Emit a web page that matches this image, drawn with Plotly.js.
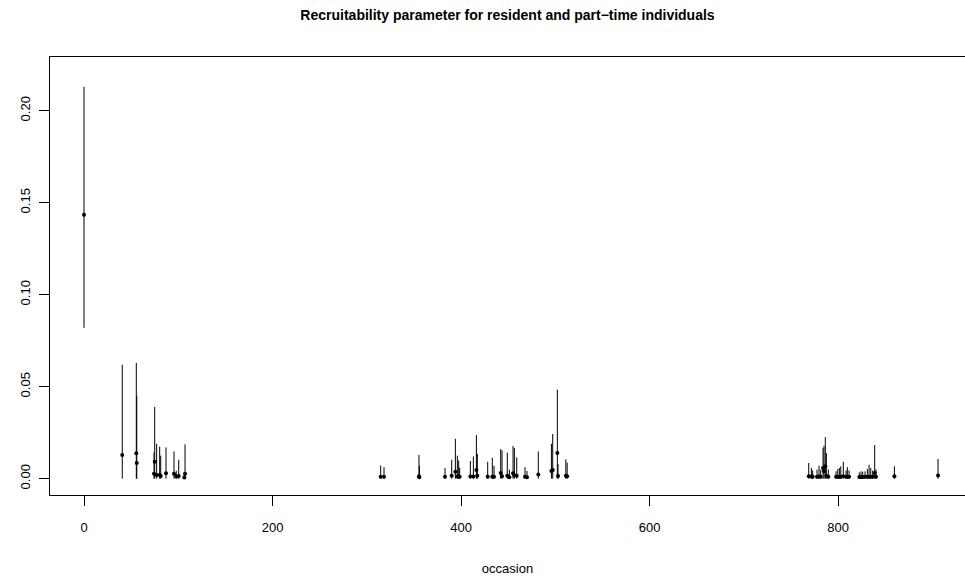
<!DOCTYPE html>
<html>
<head>
<meta charset="utf-8">
<script src="https://cdn.plot.ly/plotly-3.0.1.min.js"></script>
<style>html,body{margin:0;padding:0;background:#fff;}</style>
</head>
<body>
<div id="chart" style="width:965px;height:581px;"></div>
<script>
// occasion index, point estimate, lower and upper bounds
var occasion = [0, 40.6, 55.5, 56, 74.3, 75.0, 77.1, 80.3, 81.4, 87, 95.5, 97.9, 100.5, 106.4, 107.2,
  314.8, 318.3, 355.4, 355.8, 383, 390.1, 394, 396.1, 397.5, 398.6, 409.9, 413.1, 416.3, 417.3, 428.3, 433.2, 435,
  442.1, 443.5, 449.1, 451.3, 455.2, 456.6, 459.1, 467.9, 470, 482, 495.9, 497.3, 502.2, 502.9, 511.2, 512.6,
  768.9, 771.7, 773.1, 777.7, 779.8, 781.6, 784.1, 785.1, 786.5, 787.6, 789.7, 797.9, 799.7, 801.4, 802.9, 805.6,
  808.5, 809.9, 811.7, 822.6, 824.4, 826.2, 828.6, 831.1, 832.9, 834.7, 836.8, 838.9, 840.3, 859.8, 906.1];
var estimate = [0.1435, 0.0129, 0.0138, 0.0085, 0.0027, 0.0092, 0.0020, 0.0020, 0.0015, 0.0029, 0.0027, 0.0012, 0.0015, 0.0006, 0.0027,
  0.0011, 0.0011, 0.0013, 0.0008, 0.0010, 0.0016, 0.0038, 0.0012, 0.0012, 0.0011, 0.0012, 0.0012, 0.0047, 0.0016, 0.0011, 0.0011, 0.0011,
  0.0031, 0.0013, 0.0016, 0.0008, 0.0029, 0.0019, 0.0016, 0.0010, 0.0008, 0.0023, 0.0042, 0.0047, 0.0140, 0.0015, 0.0016, 0.0013,
  0.0013, 0.0012, 0.0010, 0.0010, 0.0012, 0.0010, 0.0058, 0.0040, 0.0067, 0.0015, 0.0010, 0.0010, 0.0010, 0.0011, 0.0011, 0.0013,
  0.0010, 0.0011, 0.0010, 0.0009, 0.0009, 0.0009, 0.0010, 0.0010, 0.0011, 0.0010, 0.0010, 0.0031, 0.0011, 0.0013, 0.0018];
var lower = [0.082, 0, 0, 0, 0, 0, 0, 0, 0, 0, 0, 0, 0, 0, 0,
  0, 0, 0, 0, 0, 0, 0, 0, 0, 0, 0, 0, 0, 0, 0, 0, 0,
  0, 0, 0, 0, 0, 0, 0, 0, 0, 0, 0, 0, 0, 0, 0, 0,
  0, 0, 0, 0, 0, 0, 0, 0, 0, 0, 0, 0, 0, 0, 0, 0,
  0, 0, 0, 0, 0, 0, 0, 0, 0, 0, 0, 0, 0, 0, 0];
var upper = [0.213, 0.062, 0.0629, 0.045, 0.0143, 0.039, 0.019, 0.0174, 0.0125, 0.017, 0.0148, 0.0043, 0.0103, 0.003, 0.0187,
  0.0072, 0.0063, 0.0129, 0.007, 0.0058, 0.0103, 0.0217, 0.0125, 0.0099, 0.006, 0.0096, 0.0121, 0.0237, 0.0136, 0.0092, 0.0114, 0.007,
  0.0161, 0.0154, 0.0141, 0.0049, 0.0178, 0.0167, 0.0116, 0.0063, 0.0042, 0.0148, 0.019, 0.0243, 0.0484, 0.008, 0.0105, 0.0087,
  0.0085, 0.0058, 0.0045, 0.0049, 0.0071, 0.0049, 0.0167, 0.0179, 0.0226, 0.0139, 0.005, 0.004, 0.0053, 0.0058, 0.0067, 0.0092,
  0.0045, 0.0063, 0.0045, 0.0034, 0.004, 0.0038, 0.004, 0.0053, 0.0076, 0.0058, 0.0045, 0.0183, 0.005, 0.0067, 0.0107];
var xTicks = [0, 200, 400, 600, 800];
var yTicks = [0, 0.05, 0.10, 0.15, 0.20];
var yTickText = ["0.00", "0.05", "0.10", "0.15", "0.20"];

var plus = upper.map(function(u, i){ return u - estimate[i]; });
var minus = lower.map(function(l, i){ return estimate[i] - l; });

var font = "Liberation Sans, Arial, Helvetica, sans-serif";

var trace = {
  type: "scatter",
  mode: "markers",
  x: occasion,
  y: estimate,
  marker: {color: "#000", size: 4},
  error_y: {type: "data", symmetric: false, array: plus, arrayminus: minus,
            color: "#000", thickness: 1, width: 0},
  hoverinfo: "x+y",
  showlegend: false
};

var layout = {
  width: 965, height: 581,
  margin: {l: 50, r: 0, t: 57, b: 86, pad: 0},
  paper_bgcolor: "#fff", plot_bgcolor: "#fff",
  font: {family: font, size: 13, color: "#000"},
  title: {text: "<b>Recruitability parameter for resident and part\u2212time individuals</b>",
          font: {family: font, size: 14, color: "#000"},
          x: 0.5, xref: "paper", xanchor: "center", y: 0.974, yref: "container", yanchor: "middle"},
  xaxis: {
    range: [-36.07, 934.7], showgrid: false, zeroline: false,
    showline: true, mirror: true, linecolor: "#000", linewidth: 1,
    ticks: "outside", ticklen: 10, tickcolor: "#000", tickwidth: 1,
    tickvals: xTicks, ticktext: xTicks.map(String), ticklabelstandoff: 10,
    tickfont: {family: font, size: 13, color: "#000"},
    title: {text: "occasion", font: {family: font, size: 13, color: "#000"}, standoff: 30}
  },
  yaxis: {
    range: [-0.00886, 0.2292], showgrid: false, zeroline: false,
    showline: true, mirror: false, linecolor: "#000", linewidth: 1,
    ticks: "outside", ticklen: 10, tickcolor: "#000", tickwidth: 1,
    tickvals: yTicks, ticktext: yTickText, tickangle: -90, ticklabelstandoff: 4,
    tickfont: {family: font, size: 13, color: "#000"}
  }
};

Plotly.newPlot("chart", [trace], layout, {displayModeBar: false, staticPlot: true});
</script>
</body>
</html>
